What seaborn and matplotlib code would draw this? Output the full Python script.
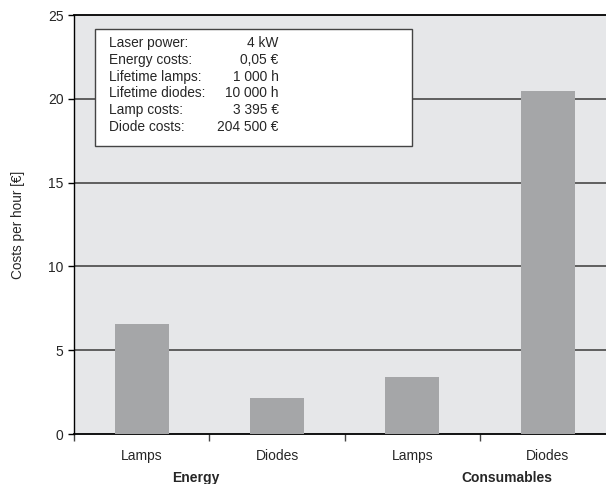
import pandas as pd
import matplotlib
matplotlib.use('Agg')
import matplotlib.pyplot as plt
import seaborn as sns
from matplotlib.patches import Rectangle
from matplotlib.ticker import FixedLocator

# data
groups = ['Energy', 'Energy', 'Consumables', 'Consumables']
items = ['Lamps', 'Diodes', 'Lamps', 'Diodes']
costs = [6.55, 2.15, 3.4, 20.45]

info_names = ['Laser power:', 'Energy costs:', 'Lifetime lamps:', 'Lifetime diodes:', 'Lamp costs:', 'Diode costs:']
info_values = ['4 kW', '0,05 €', '1 000 h', '10 000 h', '3 395 €', '204 500 €']

df = pd.DataFrame({'group': groups, 'item': items, 'cost': costs})
df['key'] = df['group'] + ' ' + df['item']

sns.set_style('white')
plt.rcParams['font.family'] = ['Liberation Sans', 'DejaVu Sans']

fig = plt.figure(figsize=(6.06, 4.84), dpi=100)
ax = fig.add_axes([0.1221, 0.1033, 0.8779, 0.8657])
ax.set_facecolor('#e6e7e9')

sns.barplot(x='key', y='cost', data=df, color='#a5a6a8', width=0.4,
            saturation=1, ax=ax, zorder=3, edgecolor='none', linewidth=0)

ax.set_xlim(-0.5, 3.43)
ax.set_ylim(0, 25)
ax.set_yticks([0, 5, 10, 15, 20, 25])
for v in [5, 10, 15, 20]:
    ax.axhline(v, color='#3a3a3a', lw=1.1, zorder=2)

# spines
ax.spines['right'].set_visible(False)
ax.spines['top'].set_color('black')
ax.spines['top'].set_linewidth(1.3)
ax.spines['left'].set_color('black')
ax.spines['left'].set_linewidth(1.0)
ax.spines['bottom'].set_color('black')
ax.spines['bottom'].set_linewidth(1.3)

ax.set_xticks(range(len(items)))
ax.set_xticklabels(items, fontsize=10)
ax.xaxis.set_minor_locator(FixedLocator([-0.5, 0.5, 1.5, 2.5]))
ax.tick_params(axis='x', which='major', length=0, pad=11)
ax.tick_params(axis='x', which='minor', length=5, width=1.0, color='#444444', direction='out', bottom=True)
ax.tick_params(axis='y', which='major', length=4.5, width=1.0, color='black', direction='out', pad=3, labelsize=10, left=True)

ax.set_xlabel('')
ax.set_ylabel('Costs per hour [€]', fontsize=9.8)
ax.yaxis.set_label_coords(-0.093, 0.5)

# group labels
ax.annotate('Energy', xy=(0.4, -0.105), xycoords=('data', 'axes fraction'),
            ha='center', va='center', fontsize=10, fontweight='bold')
ax.annotate('Consumables', xy=(2.7, -0.105), xycoords=('data', 'axes fraction'),
            ha='center', va='center', fontsize=10, fontweight='bold')

# info box
ax.add_patch(Rectangle((-0.345, 17.18), 2.344, 6.98, facecolor='white',
                       edgecolor='#444444', lw=1.0, zorder=5))
for i, (n, v) in enumerate(zip(info_names, info_values)):
    y = 23.33 - i
    ax.text(-0.242, y, n, ha='left', va='center', fontsize=9.9, zorder=6)
    ax.text(1.011, y, v, ha='right', va='center', fontsize=9.9, zorder=6)

fig.savefig('out.png', dpi=100, facecolor='white')
